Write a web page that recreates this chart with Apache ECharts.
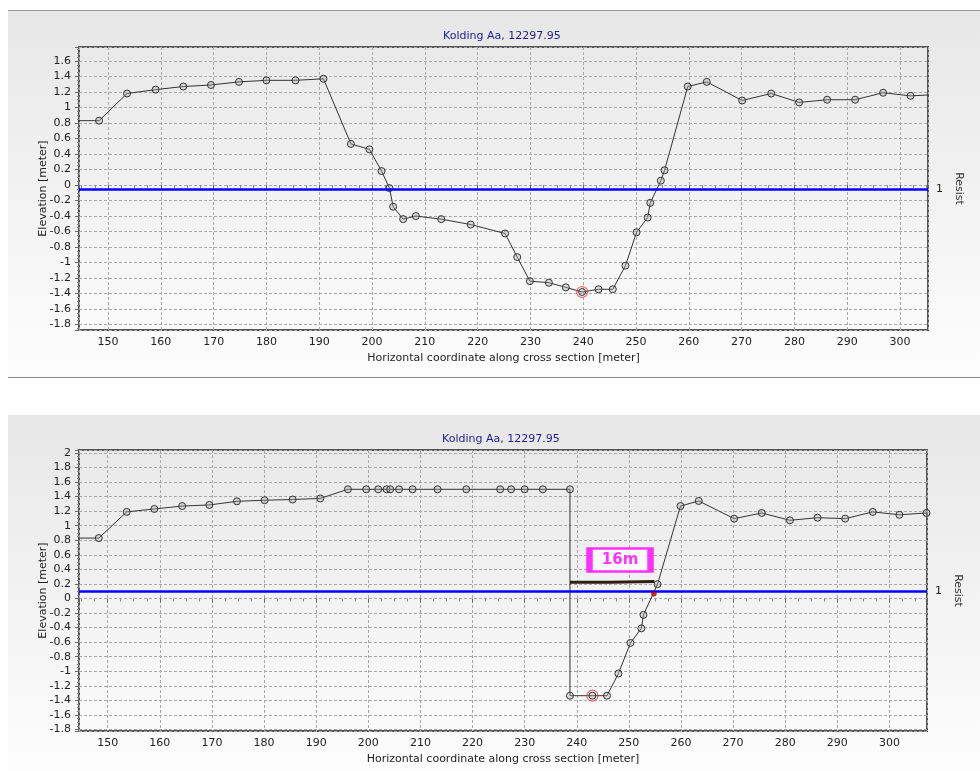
<!DOCTYPE html>
<html>
<head>
<meta charset="utf-8">
<script src="https://cdn.jsdelivr.net/npm/echarts@6/dist/echarts.min.js"></script>
<style>
  html, body { margin: 0; padding: 0; background: #fff; }
  #chart { width: 980px; height: 771px; }
</style>
</head>
<body>
<div id="chart"></div>
<script>
const TITLE = 'Kolding Aa, 12297.95';
const X_NAME = 'Horizontal coordinate along cross section [meter]';
const Y_NAME = 'Elevation [meter]';

// upper panel: surveyed cross section
const topX = [140, 148.3, 153.6, 159.0, 164.25, 169.5, 174.8, 180.0, 185.5, 190.8, 196.0, 199.5, 201.8, 203.3, 204.0,
  205.9, 208.3, 213.1, 218.7, 225.2, 227.5, 229.9, 233.5, 236.7, 239.8, 242.9, 245.6, 248.0, 250.1, 252.2,
  252.7, 254.7, 255.4, 259.8, 263.4, 270.1, 275.6, 280.9, 286.2, 291.5, 296.8, 302.0, 308];
const topY = [0.83, 0.83, 1.18, 1.23, 1.27, 1.29, 1.33, 1.35, 1.35, 1.37, 0.53, 0.46, 0.18, -0.04, -0.28,
  -0.44, -0.40, -0.44, -0.51, -0.625, -0.93, -1.24, -1.26, -1.32, -1.38, -1.345, -1.345, -1.04, -0.61, -0.42,
  -0.23, 0.056, 0.19, 1.27, 1.33, 1.09, 1.18, 1.065, 1.10, 1.10, 1.19, 1.15, 1.17];
const topWater = -0.05;
const topLowest = [239.8, -1.38];
const topXRange = [144.5, 305.3];
const topYRange = [-1.87, 1.78];

// lower panel: modified cross section
const botX = [140, 148.3, 153.65, 158.96, 164.3, 169.5, 174.8, 180.1, 185.5, 190.8, 196.1, 199.6, 201.9, 203.5, 204.2,
  205.9, 208.5, 213.3, 218.8, 225.3, 227.4, 230.0, 233.5, 238.7, 238.7, 243.0, 245.8, 248.0, 250.3, 252.4,
  252.8, 255.5, 259.9, 263.4, 270.2, 275.5, 280.9, 286.2, 291.5, 296.8, 301.9, 307.1];
const botY = [0.83, 0.83, 1.19, 1.23, 1.27, 1.285, 1.335, 1.35, 1.36, 1.375, 1.5, 1.5, 1.5, 1.5, 1.5,
  1.5, 1.5, 1.5, 1.5, 1.5, 1.5, 1.5, 1.5, 1.5, -1.335, -1.335, -1.335, -1.03, -0.61, -0.41,
  -0.225, 0.197, 1.27, 1.34, 1.097, 1.175, 1.074, 1.11, 1.097, 1.19, 1.15, 1.175];
const botWater = 0.10;
const botLowest = [243.0, -1.335];
const botCrossing = [254.8, 0.064];
const widthX = [238.7, 246.5, 254.9];
const widthY = [0.225, 0.225, 0.235];
const widthLabel = '16m';
const widthLabelPos = [248.3, 0.53];
const botXRange = [144.5, 307.2];
const botYRange = [-1.82, 2.04];

const FONT = 'DejaVu Sans';
const zip = (xs, ys) => xs.map((x, i) => [x, ys[i]]);

function panelBg(y, h) {
  return {
    type: 'rect', z: -10, silent: true,
    shape: { x: 8, y: y, width: 972, height: h },
    style: {
      fill: new echarts.graphic.LinearGradient(0, 0, 0, 1, [
        { offset: 0, color: '#e7e7e7' },
        { offset: 1, color: '#fdfdfd' }
      ])
    }
  };
}

function xAxis(gi, range) {
  return {
    type: 'value', gridIndex: gi, min: range[0], max: range[1], splitNumber: 16,
    name: X_NAME, nameLocation: 'middle', nameGap: 23, nameMoveOverlap: false,
    nameTextStyle: { fontSize: 11, color: '#222' },
    axisLine: { show: false },
    axisTick: { show: true, length: 4, lineStyle: { color: '#666' } },
    minorTick: { show: true, splitNumber: 4, length: 3, lineStyle: { color: '#888' } },
    axisLabel: { fontSize: 11, color: '#222', margin: 7, showMinLabel: false, showMaxLabel: false },
    splitLine: { show: true, lineStyle: { color: '#a9a9a9', type: [3, 2], width: 1 } }
  };
}

function yAxes(gi, range) {
  return [{
    type: 'value', gridIndex: gi, min: range[0], max: range[1], splitNumber: 18,
    name: Y_NAME, nameLocation: 'middle', nameGap: 30, nameMoveOverlap: false,
    nameTextStyle: { fontSize: 11, color: '#222' },
    axisLine: { show: false },
    axisTick: { show: true, length: 4, lineStyle: { color: '#666' } },
    minorTick: { show: true, splitNumber: 4, length: 2, lineStyle: { color: '#888' } },
    axisLabel: { fontSize: 11, color: '#222', margin: 8, showMinLabel: false, showMaxLabel: false },
    splitLine: { show: true, lineStyle: { color: '#a9a9a9', type: [3, 2], width: 1 } }
  }, {
    type: 'value', gridIndex: gi, position: 'right', min: range[0], max: range[1],
    name: 'Resist', nameLocation: 'middle', nameGap: 25, nameRotate: -90, nameMoveOverlap: false,
    nameTextStyle: { fontSize: 11, color: '#333' },
    axisLine: { show: false }, axisTick: { show: false },
    axisLabel: { show: false }, splitLine: { show: false }
  }];
}

function profile(gi, data, water) {
  return {
    type: 'line', xAxisIndex: gi, yAxisIndex: gi * 2, data: data,
    symbol: 'circle', symbolSize: 7, clip: true,
    lineStyle: { color: '#333', width: 1 },
    itemStyle: { color: 'rgba(170,170,170,0.35)', borderColor: '#333', borderWidth: 1 },
    markLine: {
      silent: true, symbol: 'none', animation: false,
      lineStyle: { color: '#0000ff', width: 2.5, type: 'solid' },
      label: { show: true, position: 'end', formatter: '1', color: '#222', fontSize: 11, distance: 8 },
      data: [{ yAxis: water }]
    },
    z: 3
  };
}

function ring(gi, pt) {
  return {
    type: 'scatter', xAxisIndex: gi, yAxisIndex: gi * 2, data: [pt],
    symbol: 'circle', symbolSize: 11,
    itemStyle: { color: 'rgba(0,0,0,0)', borderColor: '#ff3b3b', borderWidth: 1.2 },
    z: 4
  };
}

const chart = echarts.init(document.getElementById('chart'));
chart.setOption({
  animation: false,
  textStyle: { fontFamily: FONT },
  graphic: [
    panelBg(10, 367),
    panelBg(415, 356),
    { type: 'line', z: -9, silent: true, shape: { x1: 8, y1: 10.5, x2: 980, y2: 10.5 }, style: { stroke: '#9a9a9a', lineWidth: 1 } },
    { type: 'line', z: -9, silent: true, shape: { x1: 8, y1: 377.5, x2: 980, y2: 377.5 }, style: { stroke: '#888', lineWidth: 1 } }
  ],
  title: [
    { text: TITLE, left: 438, top: 26, textStyle: { fontSize: 11, fontWeight: 'normal', color: '#1c1c8e', fontFamily: FONT } },
    { text: TITLE, left: 437, top: 429, textStyle: { fontSize: 11, fontWeight: 'normal', color: '#1c1c8e', fontFamily: FONT } }
  ],
  grid: [
    { left: 79, top: 47, right: 52, height: 283, show: true, borderColor: '#555', borderWidth: 2, backgroundColor: 'transparent' },
    { left: 79, top: 450, right: 53, height: 281, show: true, borderColor: '#555', borderWidth: 2, backgroundColor: 'transparent' }
  ],
  xAxis: [xAxis(0, topXRange), xAxis(1, botXRange)],
  yAxis: [...yAxes(0, topYRange), ...yAxes(1, botYRange)],
  series: [
    profile(0, zip(topX, topY), topWater),
    ring(0, topLowest),
    profile(1, zip(botX, botY), botWater),
    ring(1, botLowest),
    {
      type: 'line', xAxisIndex: 1, yAxisIndex: 2, data: zip(widthX, widthY),
      symbol: 'none', lineStyle: { color: '#2e1f10', width: 3 }, z: 5
    },
    {
      type: 'scatter', xAxisIndex: 1, yAxisIndex: 2, data: [botCrossing],
      symbol: 'circle', symbolSize: 5,
      itemStyle: { color: '#d40000', borderColor: '#500', borderWidth: 0.5 }, z: 6
    },
    {
      type: 'scatter', xAxisIndex: 1, yAxisIndex: 2, data: [widthLabelPos],
      symbol: 'rect', symbolSize: [61, 23],
      itemStyle: { color: '#fff', borderColor: '#ff00ff', borderWidth: 4 },
      label: { show: true, position: 'inside', formatter: widthLabel, color: '#ff00ff', fontSize: 15, fontWeight: 'bold', fontFamily: FONT },
      z: 6
    }
  ]
});
</script>
</body>
</html>
